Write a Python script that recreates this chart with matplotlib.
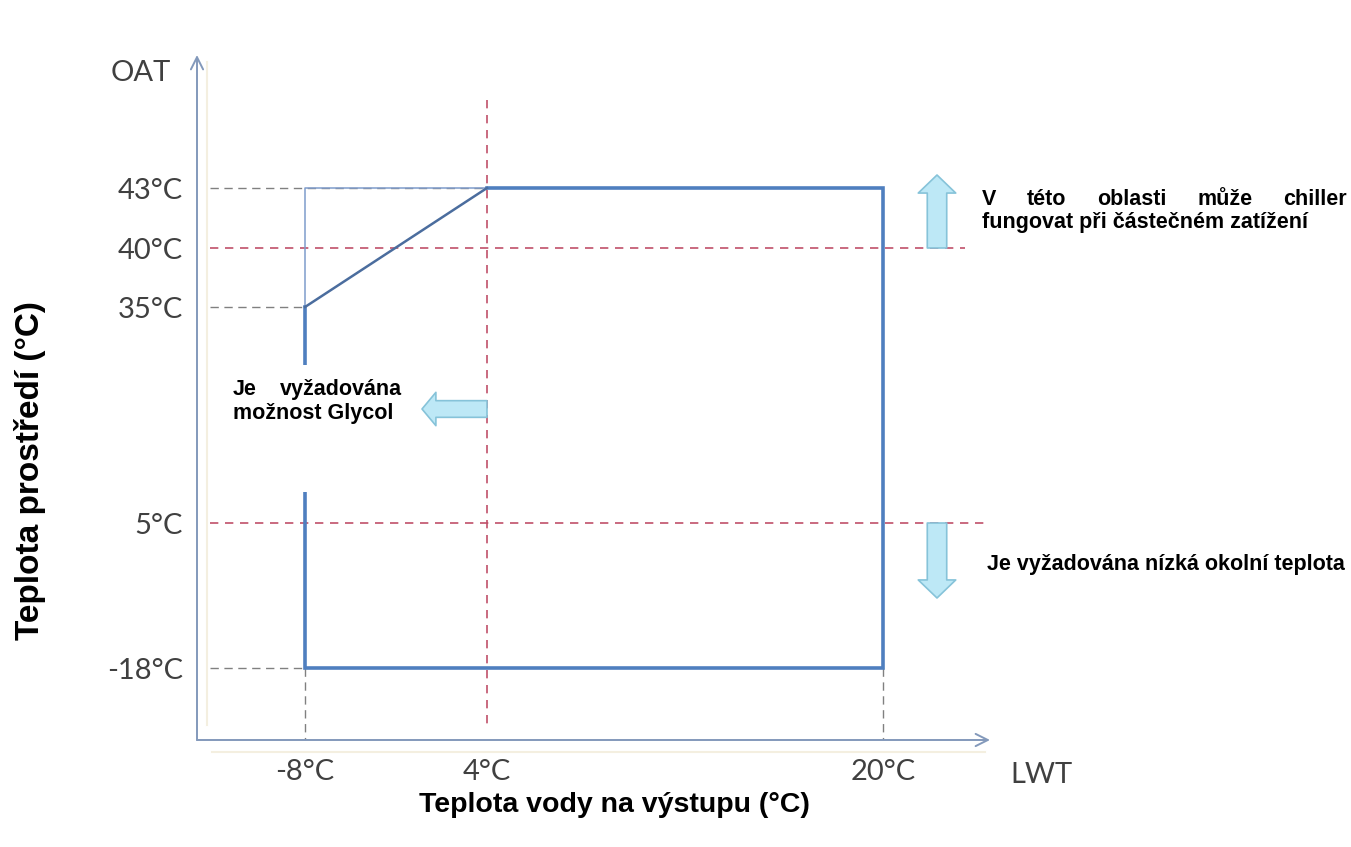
import numpy as np
import matplotlib.pyplot as plt
from matplotlib.patches import Rectangle

# operating envelope: leaving water temperature (LWT) vs outdoor air temperature (OAT)
LWT_TICKS = [-8, 4, 20]
OAT_TICKS = [-18, 5, 35, 40, 43]

ENV_LWT = [-8, -8, 20, 20, 4, -8]
ENV_OAT = [35, -18, -18, 43, 43, 35]

LIMIT_LWT = [-8, -8, 4]
LIMIT_OAT = [35, 43, 43]

GLYCOL_LWT = 4          # below this LWT glycol is needed
PART_LOAD_OAT = 40      # above this OAT the unit runs at part load
LOW_AMBIENT_OAT = 5     # below this OAT the low ambient kit is needed

W, H = 1351, 847

# the axes are schematic, tick values sit at hand-placed pixel positions
X_PIX = [305, 487, 883]
Y_PIX = [H - p for p in [668, 523, 307, 248, 188]]


def piecewise(a, b):
    a = np.asarray(a, float)
    b = np.asarray(b, float)

    def f(v, a=a, b=b):
        v = np.asarray(v, float)
        s0 = (b[1] - b[0]) / (a[1] - a[0])
        s1 = (b[-1] - b[-2]) / (a[-1] - a[-2])
        return np.where(v < a[0], b[0] + (v - a[0]) * s0,
                        np.where(v > a[-1], b[-1] + (v - a[-1]) * s1,
                                 np.interp(v, a, b)))
    return f


x_fwd, x_inv = piecewise(LWT_TICKS, X_PIX), piecewise(X_PIX, LWT_TICKS)
y_fwd, y_inv = piecewise(OAT_TICKS, Y_PIX), piecewise(Y_PIX, OAT_TICKS)


def px_x(p):
    return float(x_inv(p))


def px_y(p):
    return float(y_inv(H - p))


fig = plt.figure(figsize=(W / 100, H / 100), dpi=100)
ax = fig.add_axes([197 / W, (H - 740) / H, (990 - 197) / W, (740 - 55) / H])
ax.set_xscale('function', functions=(x_fwd, x_inv))
ax.set_yscale('function', functions=(y_fwd, y_inv))
ax.set_xlim(px_x(197), px_x(990))
ax.set_ylim(px_y(740), px_y(55))
for s in ax.spines.values():
    s.set_visible(False)

tick_font = dict(family='Lato', size=21, color='#404040')
ax.set_xticks(LWT_TICKS, [f'{v}°C' for v in LWT_TICKS])
ax.set_yticks(OAT_TICKS, [f'{v}°C' for v in OAT_TICKS])
ax.tick_params(length=0)
ax.tick_params(axis='x', pad=14)
ax.tick_params(axis='y', pad=10)
for lab in ax.get_xticklabels() + ax.get_yticklabels():
    lab.set(**tick_font)

# axis arrows and their faint shadow
axis_col = '#8399bb'
arrow = dict(arrowstyle='->', color=axis_col, lw=1.4, shrinkA=0, shrinkB=0,
             mutation_scale=22)
ax.annotate('', xy=(0, 1), xytext=(0, 0), xycoords='axes fraction', arrowprops=arrow)
ax.annotate('', xy=(1, 0), xytext=(0, 0), xycoords='axes fraction', arrowprops=arrow)
ax.plot([px_x(207)] * 2, [px_y(62), px_y(725)], color='#f4efe0', lw=1.5, zorder=0)
ax.plot([px_x(212), px_x(985)], [px_y(752)] * 2, color='#f4efe0', lw=1.5,
        zorder=0, clip_on=False)

# grey guides back to the axes
x_left = px_x(210)
grey = dict(color='#808080', lw=1.0, dashes=(6, 4))
ax.plot([x_left, GLYCOL_LWT], [43, 43], **grey)
for v in [35, -18]:
    ax.plot([x_left, -8], [v, v], **grey)
for v in [-8, 20]:
    ax.plot([v, v], [-18, px_y(740)], **grey)

# red limit lines
red = dict(color='#c0506a', lw=1.2, dashes=(5, 4))
ax.plot([GLYCOL_LWT] * 2, [px_y(100), px_y(728)], **red)
ax.plot([x_left, px_x(965)], [PART_LOAD_OAT] * 2, **red)
ax.plot([x_left, px_x(992)], [LOW_AMBIENT_OAT] * 2, **red)

# envelope
ax.plot(LIMIT_LWT, LIMIT_OAT, color='#7f9ccb', lw=1.1, zorder=3)
ax.plot(ENV_LWT[:5], ENV_OAT[:5], color='#4f7fbf', lw=2.6, zorder=3,
        solid_joinstyle='miter')
ax.plot(ENV_LWT[4:], ENV_OAT[4:], color='#4b6d9e', lw=1.8, zorder=3)

# white label box over the left edge
ax.add_patch(Rectangle((212 / W, 1 - 492 / H), (421 - 212) / W, (492 - 365) / H,
                       transform=fig.transFigure, facecolor='white',
                       edgecolor='none', zorder=4, clip_on=False))

# fat region arrows
fat = dict(arrowstyle='simple,head_length=13,head_width=27,tail_width=14',
           mutation_scale=1, facecolor='#bde8f6', edgecolor='#86c3d9', lw=1.2,
           shrinkA=0, shrinkB=0)
xa = px_x(937)
ax.annotate('', xy=(xa, px_y(175)), xytext=(xa, PART_LOAD_OAT),
            arrowprops=fat, zorder=5)
ax.annotate('', xy=(xa, px_y(598)), xytext=(xa, LOW_AMBIENT_OAT),
            arrowprops=fat, zorder=5)
ax.annotate('', xy=(px_x(422), px_y(409)), xytext=(GLYCOL_LWT, px_y(409)),
            arrowprops=dict(fat, arrowstyle='simple,head_length=10,head_width=24,'
                                             'tail_width=12'), zorder=5)

# axis names
fig.text(141 / W, 1 - 73 / H, 'OAT', ha='center', va='center', **tick_font)
fig.text(1041 / W, 1 - 775 / H, 'LWT', ha='center', va='center', **tick_font)

bold = dict(family='Liberation Sans', weight='bold', color='black')
fig.text(614 / W, 1 - 805 / H, 'Teplota vody na výstupu (°C)', ha='center',
         va='center', size=20.5, **bold)
fig.text(30 / W, 1 - 471 / H, 'Teplota prostředí (°C)', ha='center',
         va='center', rotation=90, size=24, **bold)

note = dict(size=15.5, va='baseline', **bold)
renderer = fig.canvas.get_renderer()


def justified(words, x0, x1, base):
    texts = [fig.text(0, 1 - base / H, w, ha='left', **note) for w in words]
    widths = [t.get_window_extent(renderer).width for t in texts]
    gap = (x1 - x0 - sum(widths)) / (len(words) - 1)
    x = x0
    for t, w in zip(texts, widths):
        t.set_x(x / W)
        x += w + gap


justified(['V', 'této', 'oblasti', 'může', 'chiller'], 982, 1347, 205)
fig.text(982 / W, 1 - 228 / H, 'fungovat při částečném zatížení', **note)
fig.text(987 / W, 1 - 570 / H, 'Je vyžadována nízká okolní teplota', **note)
justified(['Je', 'vyžadována'], 233, 402, 395)
fig.text(233 / W, 1 - 419 / H, 'možnost Glycol', **note)

fig.savefig('out.png', dpi=100, facecolor='white')
